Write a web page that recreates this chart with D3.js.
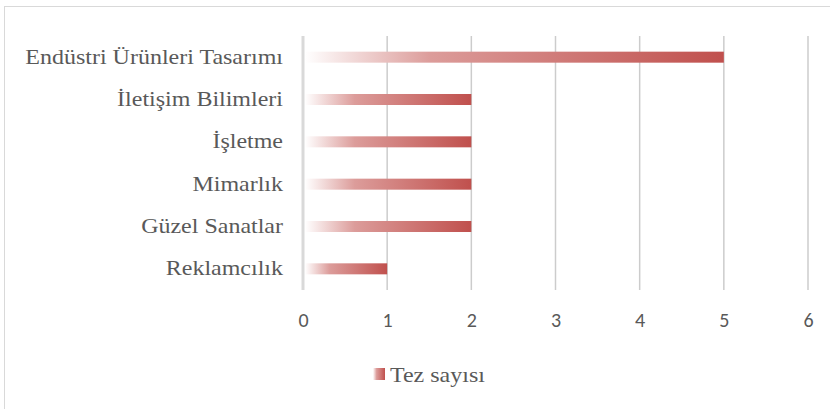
<!DOCTYPE html>
<html>
<head>
<meta charset="utf-8">
<script src="https://cdn.jsdelivr.net/npm/d3@7"></script>
<style>
  body { margin: 0; background: #fff; }
</style>
</head>
<body>
<div id="chart"></div>
<script>
// data
const categories = ["Endüstri Ürünleri Tasarımı", "İletişim Bilimleri", "İşletme", "Mimarlık", "Güzel Sanatlar", "Reklamcılık"];
const values = [5, 2, 2, 2, 2, 1];
const ticks = [0, 1, 2, 3, 4, 5, 6];
const seriesName = "Tez sayısı";

const W = 830, H = 409;
const margin = {top: 36, left: 303, right: 22, bottom: 119};

const svg = d3.select("#chart").append("svg")
    .attr("width", W)
    .attr("height", H);

// gradient fill for bars
const defs = svg.append("defs");
const grad = defs.append("linearGradient")
    .attr("id", "barGrad")
    .attr("x1", "0").attr("x2", "1").attr("y1", "0").attr("y2", "0");
grad.append("stop").attr("offset", "0%").attr("stop-color", "#ffffff");
grad.append("stop").attr("offset", "30%").attr("stop-color", "#dc9c9a");
grad.append("stop").attr("offset", "100%").attr("stop-color", "#c0504d");

// chart frame
svg.append("rect")
    .attr("x", 4.5).attr("y", 6.5)
    .attr("width", W).attr("height", H)
    .attr("fill", "none")
    .attr("stroke", "#d9d9d9");

const x = d3.scaleLinear()
    .domain([0, 6])
    .range([margin.left, W - margin.right]);

const y = d3.scaleBand()
    .domain(categories)
    .range([margin.top, H - margin.bottom])
    .paddingInner(0.74)
    .paddingOuter(0.37);

// grid lines
svg.append("g")
    .selectAll("line")
    .data(ticks)
    .join("line")
    .attr("x1", d => x(d)).attr("x2", d => x(d))
    .attr("y1", margin.top).attr("y2", H - margin.bottom)
    .attr("stroke", d => d === 0 ? "#d9d9d9" : "#cccccc")
    .attr("stroke-width", d => d === 0 ? 3 : 1.5);

// bars
svg.append("g")
    .selectAll("rect")
    .data(values)
    .join("rect")
    .attr("x", x(0) + 2)
    .attr("y", (d, i) => y(categories[i]))
    .attr("width", d => x(d) - x(0) - 2)
    .attr("height", y.bandwidth())
    .attr("fill", "url(#barGrad)");

// x axis labels
const xAxis = svg.append("g")
    .attr("transform", `translate(0,${H - margin.bottom})`)
    .call(d3.axisBottom(x).tickValues(ticks).tickFormat(d3.format("d")).tickSize(0).tickPadding(23));
xAxis.select(".domain").remove();
xAxis.selectAll("text")
    .attr("fill", "#595959")
    .style("font-family", "Carlito, 'Open Sans', 'Liberation Sans', sans-serif")
    .style("font-size", "20px");

// y axis labels (serif, a bit stretched like the original)
const yAxis = svg.append("g")
    .attr("transform", `translate(${margin.left - 20},0)`)
    .call(d3.axisLeft(y).tickSize(0).tickPadding(0));
yAxis.select(".domain").remove();
yAxis.selectAll("text")
    .attr("fill", "#595959")
    .attr("transform", "scale(1.2,1)")
    .style("font-family", "'Liberation Serif', 'Times New Roman', serif")
    .style("font-size", "20px");

// legend
const legend = svg.append("g")
    .attr("transform", "translate(373,368)");
legend.append("rect")
    .attr("width", 12).attr("height", 12)
    .attr("fill", "url(#barGrad)");
legend.append("text")
    .attr("x", 17).attr("y", 14)
    .attr("fill", "#595959")
    .attr("transform", "translate(17,0) scale(1.2,1) translate(-17,0)")
    .style("font-family", "'Liberation Serif', 'Times New Roman', serif")
    .style("font-size", "20px")
    .text(seriesName);
</script>
</body>
</html>
